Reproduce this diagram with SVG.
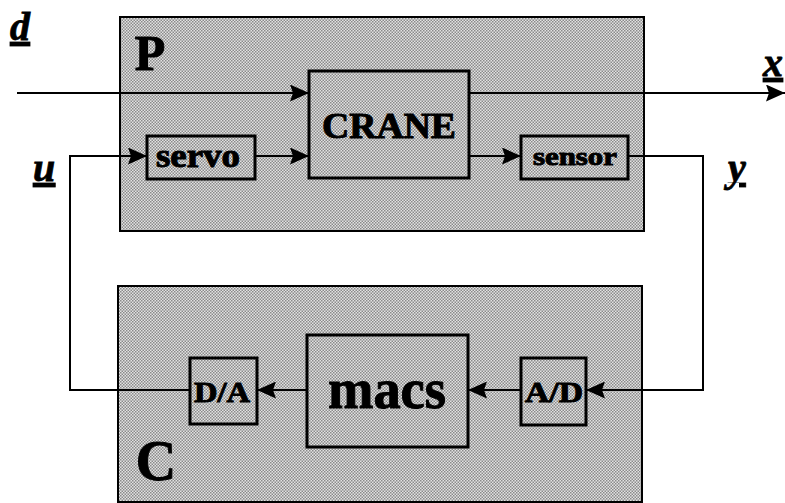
<svg xmlns="http://www.w3.org/2000/svg" width="785" height="503" viewBox="0 0 785 503">
<defs>
<pattern id="ht" width="3" height="3" patternUnits="userSpaceOnUse">
<rect width="3" height="3" fill="#e2e2e2"/>
<rect x="0" y="0" width="1.5" height="1.5" fill="#8a8a8a"/>
<rect x="1.5" y="1.5" width="1.5" height="1.5" fill="#8a8a8a"/>
</pattern>
<marker id="ah" markerWidth="19" markerHeight="17" refX="19" refY="8.5" orient="auto" markerUnits="userSpaceOnUse">
<path d="M0,0 L19,8.5 L0,17 L3,8.5 Z" fill="#000"/>
</marker>
</defs>
<style>
.grp{fill:url(#ht);stroke:#000;stroke-width:2}
.blk{fill:url(#ht);stroke:#000;stroke-width:3}
.t{font-family:"Liberation Serif",serif;font-weight:bold;fill:#000;stroke:#000;stroke-width:1;text-anchor:middle}
.lab{font-family:"Liberation Serif",serif;font-weight:bold;font-style:italic;fill:#000;stroke:#000;stroke-width:0.8;text-decoration:underline}
.w{fill:none;stroke:#000;stroke-width:2}
</style>
<g id="P">
<rect class="grp" x="120" y="17" width="524" height="214"/>
<text class="t" x="150" y="70" font-size="50">P</text>
</g>
<g id="C">
<rect class="grp" x="118" y="286" width="524" height="216"/>
<text class="t" x="156" y="480" font-size="56">C</text>
</g>
<g id="crane">
<rect class="blk" x="309" y="71" width="160" height="107"/>
<text class="t" x="389" y="138" font-size="36" textLength="134" lengthAdjust="spacingAndGlyphs">CRANE</text>
</g>
<g id="servo">
<rect class="blk" x="147" y="136" width="108" height="43"/>
<text class="t" x="198" y="167" font-size="34" textLength="84" lengthAdjust="spacingAndGlyphs">servo</text>
</g>
<g id="sensor">
<rect class="blk" x="521" y="136" width="107" height="43"/>
<text class="t" x="575" y="165" font-size="26" textLength="84" lengthAdjust="spacingAndGlyphs">sensor</text>
</g>
<g id="macs">
<rect class="blk" x="307" y="335" width="161" height="112"/>
<text class="t" x="387" y="408" font-size="56" textLength="118" lengthAdjust="spacingAndGlyphs">macs</text>
</g>
<g id="da">
<rect class="blk" x="190" y="358" width="67" height="66"/>
<text class="t" x="222" y="402" font-size="30" textLength="56" lengthAdjust="spacingAndGlyphs">D/A</text>
</g>
<g id="ad">
<rect class="blk" x="521" y="358" width="65" height="67"/>
<text class="t" x="554" y="402" font-size="30" textLength="58" lengthAdjust="spacingAndGlyphs">A/D</text>
</g>
<g id="labels">
<text class="lab" x="10" y="40" font-size="40">d</text>
<text class="lab" x="33" y="181" font-size="40">u</text>
<text class="lab" x="763" y="76" font-size="40">x</text>
<text class="lab" x="728" y="181" font-size="40">y</text>
</g>
<g id="connectors">
<line class="w" x1="17" y1="93" x2="309" y2="93" marker-end="url(#ah)"/>
<line class="w" x1="469" y1="93" x2="785" y2="93" marker-end="url(#ah)"/>
<polyline class="w" points="190,390 70,390 70,156 147,156" marker-end="url(#ah)"/>
<line class="w" x1="255" y1="156" x2="309" y2="156" marker-end="url(#ah)"/>
<line class="w" x1="469" y1="156" x2="521" y2="156" marker-end="url(#ah)"/>
<polyline class="w" points="628,156 703,156 703,390 586,390" marker-end="url(#ah)"/>
<line class="w" x1="521" y1="390" x2="468" y2="390" marker-end="url(#ah)"/>
<line class="w" x1="307" y1="390" x2="257" y2="390" marker-end="url(#ah)"/>
</g>
</svg>
